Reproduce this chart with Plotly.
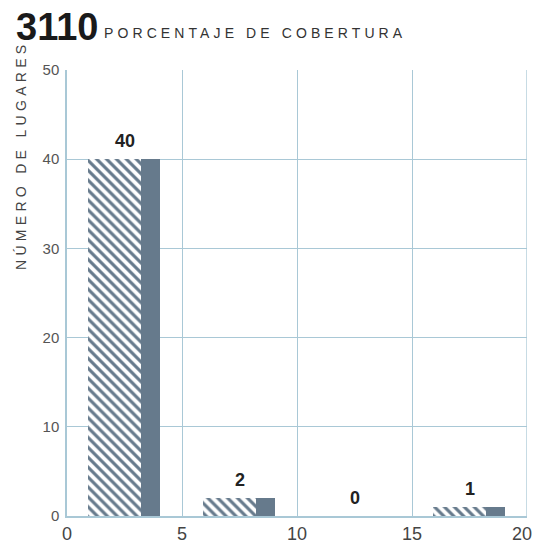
import plotly.graph_objects as go

# Data
bin_starts = [0, 5, 10, 15]
values_hatched = [40, 2, 0, 1]
values_solid = [40, 2, 0, 1]
label_values = [40, 2, 0, 1]
x_ticks = [0, 5, 10, 15, 20]
y_ticks = [0, 10, 20, 30, 40, 50]

BAR = "#667a8c"
GRID = "#a9c8d6"
FONT = "Liberation Sans, Arial, sans-serif"
TICKFONT = dict(size=18, color="#444444", family=FONT)

bin_centers = [b + 2.5 for b in bin_starts]

fig = go.Figure()
fig.add_trace(go.Bar(
    x=bin_centers, y=values_hatched, width=2.3, offset=-1.6,
    marker=dict(color="white", line=dict(width=0),
                pattern=dict(shape="\\", fgcolor=BAR, bgcolor="white",
                             fgopacity=1, size=7, solidity=0.45)),
    showlegend=False, hoverinfo="skip"))
fig.add_trace(go.Bar(
    x=bin_centers, y=values_solid, width=0.85, offset=0.7,
    marker=dict(color=BAR, line=dict(width=0)),
    showlegend=False, hoverinfo="skip"))

for xc, v in zip(bin_centers, label_values):
    fig.add_annotation(x=xc, y=v, text="<b>" + str(v) + "</b>", showarrow=False,
                       yshift=18, xref="x", yref="y",
                       font=dict(family=FONT, size=18, color="#222222"))

# last x tick label kept inside the page
fig.add_annotation(x=x_ticks[-1], y=0, xref="x", yref="paper", xanchor="right",
                   yanchor="top", xshift=7, yshift=-6, showarrow=False,
                   text=str(x_ticks[-1]), font=TICKFONT)

# Title
fig.add_annotation(xref="paper", yref="paper", x=-0.116, y=1.0, yshift=20,
                   xanchor="left", yanchor="bottom", showarrow=False,
                   text="<b>3110</b>",
                   font=dict(family=FONT, size=38, color="#1a1a1a"))
fig.add_annotation(xref="paper", yref="paper", x=0.077, y=1.0, yshift=27,
                   xanchor="left", yanchor="bottom", showarrow=False,
                   text='<span style="letter-spacing:4.1px">PORCENTAJE DE COBERTURA</span>',
                   font=dict(family=FONT, size=14, color="#333333"))
# Y axis title
fig.add_annotation(xref="paper", yref="paper", x=-0.1, y=1.0, yshift=-86,
                   xanchor="center", yanchor="middle", showarrow=False,
                   textangle=-90,
                   text='<span style="letter-spacing:4.3px">NÚMERO DE LUGARES</span>',
                   font=dict(family=FONT, size=14, color="#444444"))

fig.update_layout(
    width=534, height=542,
    margin=dict(l=67, r=7, t=70, b=26),
    plot_bgcolor="white", paper_bgcolor="white",
    barmode="overlay", bargap=0,
    font=dict(family=FONT),
    xaxis=dict(range=[0, 20], tickvals=x_ticks[:-1], showgrid=True, gridcolor=GRID,
               gridwidth=1.3, zeroline=False, showline=True, linecolor=GRID,
               linewidth=2, mirror=False, ticks="", automargin=False,
               tickfont=TICKFONT),
    yaxis=dict(range=[0, 50], tickvals=y_ticks, showgrid=True, gridcolor=GRID,
               gridwidth=1.3, zeroline=False, showline=True, linecolor=GRID,
               linewidth=1.5, ticks="", ticklabelstandoff=3, automargin=False,
               tickfont=dict(size=15, color="#555555", family=FONT)),
    shapes=[dict(type="line", xref="x", yref="paper", x0=x_ticks[-1], x1=x_ticks[-1],
                 y0=0, y1=1, line=dict(color=GRID, width=1.3))],
)

fig.write_html("out.html", config={"displayModeBar": False},
               post_script="document.body.style.margin='0px';document.body.style.overflow='hidden';")
